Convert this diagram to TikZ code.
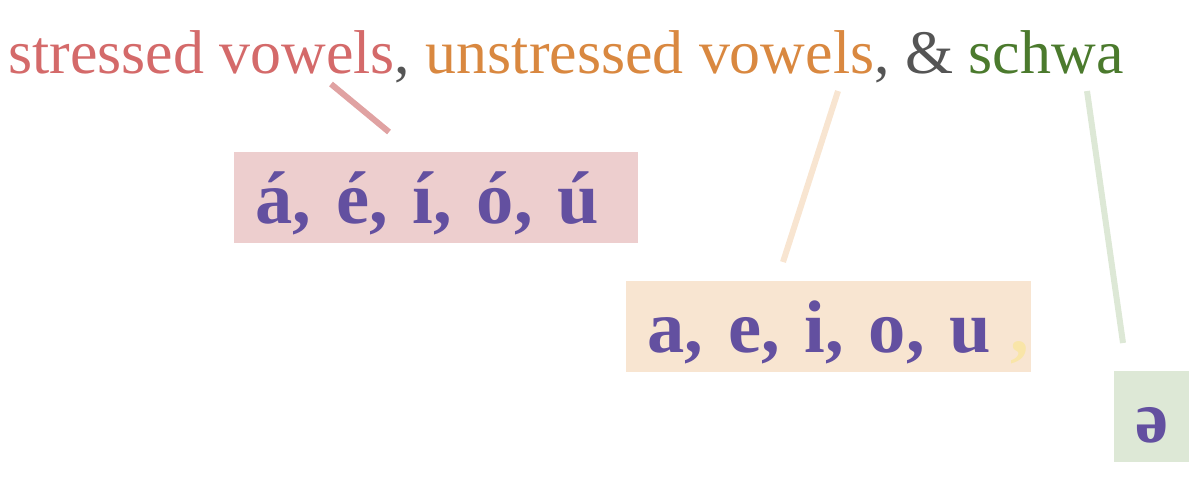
\documentclass[tikz,border=0pt]{standalone}
\usepackage{fontspec}
\setmainfont{Liberation Serif}
\usetikzlibrary{positioning}

\definecolor{stressred}{HTML}{D46A6A}
\definecolor{unstressorange}{HTML}{D98840}
\definecolor{joingray}{HTML}{555555}
\definecolor{schwagreen}{HTML}{4B7A2D}
\definecolor{vowelpurple}{HTML}{6350A0}
\definecolor{stressfill}{HTML}{EDCECE}
\definecolor{unstressfill}{HTML}{F8E5D1}
\definecolor{schwafill}{HTML}{DDE8D6}
\definecolor{stressline}{HTML}{E0A2A2}
\definecolor{unstressline}{HTML}{F8E5D1}
\definecolor{schwaline}{HTML}{DDE8D6}
\definecolor{commayellow}{HTML}{F9E5A8}

\begin{document}
\begin{tikzpicture}[x=0.025cm, y=-0.025cm,
  vowelbox/.style={anchor=north west, inner xsep=0.53cm, inner ysep=0pt,
    text height=1.775cm, text depth=0.5cm, align=left,
    font=\fontsize{53}{60}\selectfont\bfseries, text=vowelpurple},
  pointer/.style={line width=0.15cm}]

\useasboundingbox (0,0) rectangle (1204,476);

% ---- the heading -----------------------------------------------------------------
\node[anchor=base west, inner sep=0pt, font=\fontsize{44}{50}\selectfont] (title) at (8,73)
  {\textcolor{stressred}{stressed vowels}\textcolor{joingray}{,}
   \textcolor{unstressorange}{unstressed vowels}\textcolor{joingray}{, \&}
   \textcolor{schwagreen}{schwa}};

% ---- the three groups ------------------------------------------------------------
\node[vowelbox, fill=stressfill, text width=9.04cm] (stressed) at (234,152)
  {\mbox{á, é, í, ó, ú}};
\node[vowelbox, fill=unstressfill, text width=9.065cm] (unstressed) at (626,281)
  {\mbox{a, e, i, o, u \kern-4pt\textcolor{commayellow}{,}}};
\node[vowelbox, fill=schwafill, inner xsep=0pt, text width=1.875cm, align=center] (schwa) at (1114,371)
  {ə};

% ---- pointers from the words -----------------------------------------------------
\coordinate (stressedtop) at (331,84);
\coordinate (stressedend) at (389,132);
\coordinate (unstressedtop) at (838,91);
\coordinate (unstressedend) at (783,262);
\coordinate (schwatop) at (1087,91);
\coordinate (schwaend) at (1123,343);

\draw[pointer, stressline] (stressedtop) -- (stressedend);
\draw[pointer, unstressline] (unstressedtop) -- (unstressedend);
\draw[pointer, schwaline] (schwatop) -- (schwaend);

\end{tikzpicture}
\end{document}
